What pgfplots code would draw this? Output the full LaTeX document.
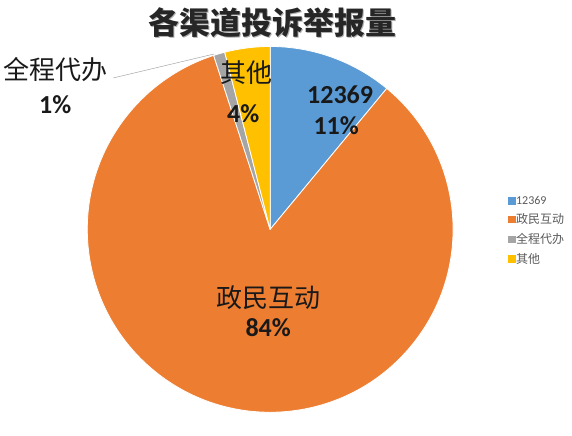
\documentclass[border=0pt]{standalone}
\usepackage{pgfplots}
\usepackage{pgfplotstable}
\pgfplotsset{compat=1.18}
\usepackage{fontspec}
\setmainfont{Carlito}
\newfontfamily\cjk{Noto Sans CJK SC}
\definecolor{c0}{HTML}{5B9BD5}
\definecolor{c1}{HTML}{ED7D31}
\definecolor{c2}{HTML}{A5A5A5}
\definecolor{c3}{HTML}{FFC000}
\pgfplotstableread{
idx value
0 11
1 84
2 1
3 4
}\piedata
\begin{document}
\begin{tikzpicture}
\xdef\cum{90}
\foreach \i in {0,...,3}{%
  \pgfplotstablegetelem{\i}{value}\of\piedata
  \pgfmathsetmacro\endang{\cum-3.6*\pgfplotsretval}%
  \expandafter\xdef\csname sa\i\endcsname{\cum}%
  \expandafter\xdef\csname ea\i\endcsname{\endang}%
  \xdef\cum{\endang}%
}
\begin{axis}[x=1pt,y=1pt,xmin=0,xmax=572,ymin=0,ymax=420,
  hide axis, clip=false, anchor=origin, at={(0,0)},
  legend style={at={(axis cs:507,226)},anchor=north west,draw=none,fill=none,
    font=\cjk\fontsize{12}{14}\selectfont, text=black!65, inner sep=1pt,
    row sep=6pt, nodes={inner sep=1pt}},
  legend cell align=left,
  legend image code/.code={\fill[#1] (0pt,-3.2pt) rectangle (6.5pt,3.3pt);}]
\path (axis cs:0,0) rectangle (axis cs:572,420);
\pgfplotsinvokeforeach{0,...,3}{%
  \fill[c#1, draw=white, line width=0.8pt, line join=round]
    (axis cs:270,190.5) -- (axis cs:{270+183*cos(\csname sa#1\endcsname)},{190.5+183*sin(\csname sa#1\endcsname)})
    arc[start angle=\csname sa#1\endcsname, end angle=\csname ea#1\endcsname, radius=183pt] -- cycle;
}
\addlegendimage{c0}\addlegendentry{\fontspec{Carlito}12369}
\addlegendimage{c1}\addlegendentry{政民互动}
\addlegendimage{c2}\addlegendentry{全程代办}
\addlegendimage{c3}\addlegendentry{其他}
\draw[gray!70, line width=0.5pt] (axis cs:113,342) -- (axis cs:214,366);
\node[text=gray!60, font=\cjk\bfseries\fontsize{31}{34}\selectfont] at (axis cs:273.5,396) {各渠道投诉举报量};
\node[text=black!85, font=\cjk\bfseries\fontsize{31}{34}\selectfont] at (axis cs:272,397.5) {各渠道投诉举报量};
\node[font=\bfseries\fontsize{26}{28}\selectfont, text=black!90] at (axis cs:340,325) {12369};
\node[font=\bfseries\fontsize{26}{28}\selectfont, text=black!90] at (axis cs:336,294) {11\%};
\node[font=\cjk\fontsize{26}{28}\selectfont, text=black!90] at (axis cs:246,347) {其他};
\node[font=\bfseries\fontsize{26}{28}\selectfont, text=black!90] at (axis cs:243,306) {4\%};
\node[font=\cjk\fontsize{26}{28}\selectfont, text=black!90] at (axis cs:55,350) {全程代办};
\node[font=\bfseries\fontsize{26}{28}\selectfont, text=black!90] at (axis cs:55,315) {1\%};
\node[font=\cjk\fontsize{26}{28}\selectfont, text=black!90] at (axis cs:268,122) {政民互动};
\node[font=\bfseries\fontsize{26}{28}\selectfont, text=black!90] at (axis cs:268,92) {84\%};
\end{axis}
\end{tikzpicture}
\end{document}
